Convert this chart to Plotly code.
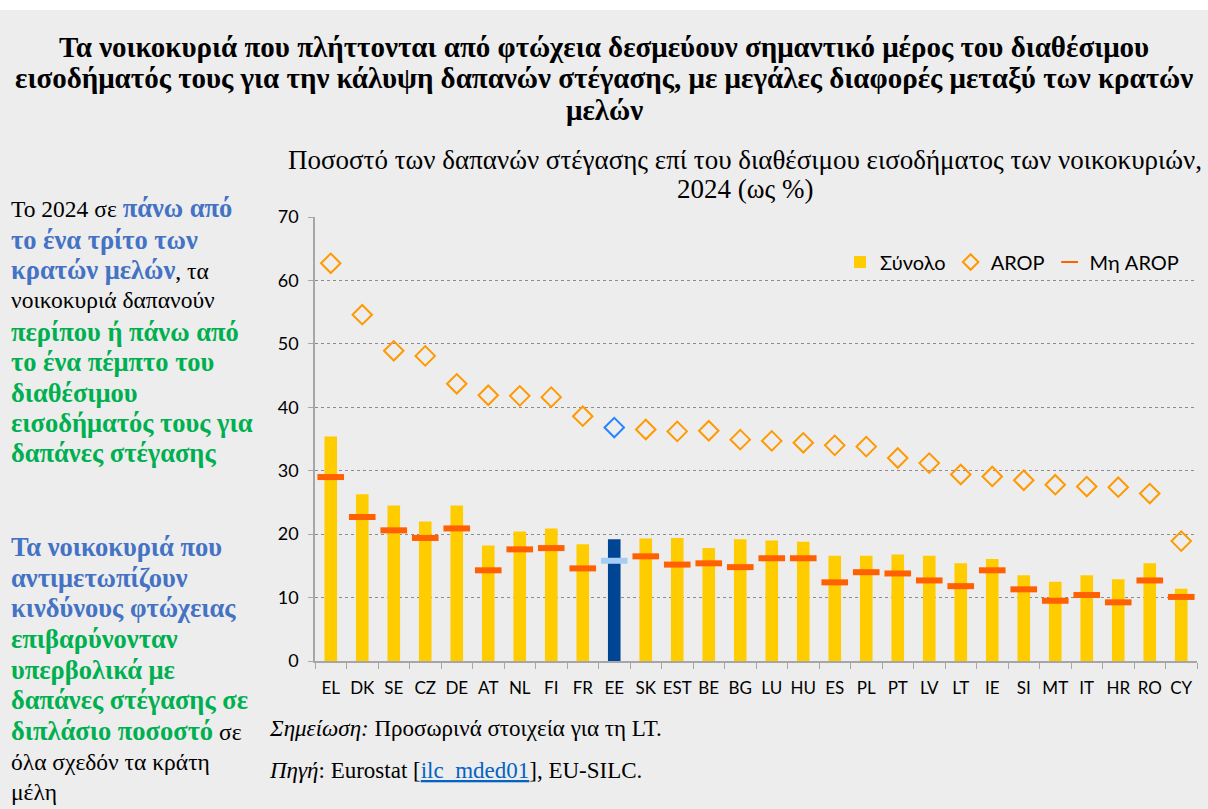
import plotly.graph_objects as go

countries = ["EL", "DK", "SE", "CZ", "DE", "AT", "NL", "FI", "FR", "EE", "SK", "EST", "BE", "BG",
             "LU", "HU", "ES", "PL", "PT", "LV", "LT", "IE", "SI", "MT", "IT", "HR", "RO", "CY"]
total = [35.4, 26.3, 24.5, 22.0, 24.5, 18.2, 20.4, 20.9, 18.4, 19.2, 19.3, 19.4, 17.8, 19.2,
         19.0, 18.8, 16.6, 16.6, 16.8, 16.6, 15.4, 16.1, 13.5, 12.5, 13.5, 12.9, 15.4, 11.4]
arop = [62.7, 54.6, 48.9, 48.1, 43.7, 41.9, 41.8, 41.6, 38.6, 36.8, 36.5, 36.2, 36.3, 34.9,
        34.7, 34.4, 34.0, 33.8, 32.0, 31.2, 29.4, 29.1, 28.5, 27.8, 27.5, 27.4, 26.4, 18.9]
non_arop = [29.0, 22.7, 20.6, 19.4, 20.9, 14.3, 17.6, 17.8, 14.6, 15.8, 16.5, 15.2, 15.4, 14.8,
            16.2, 16.2, 12.4, 14.0, 13.8, 12.7, 11.8, 14.3, 11.3, 9.5, 10.4, 9.25, 12.7, 10.1]
highlight = "EE"

W, H = 1208, 809
L, R, T, B = 315, 11, 217, 148
PW, PH = W - L - R, H - T - B


def px(x):
    return (x - L) / PW


def py(y):
    return (H - B - y) / PH


bar_colors = ["#004494" if c == highlight else "#FFCC00" for c in countries]
dia_colors = ["#2684FF" if c == highlight else "#FF9900" for c in countries]
dash_colors = ["#A6CDF5" if c == highlight else "#FF6000" for c in countries]

fig = go.Figure()
fig.add_trace(go.Bar(x=countries, y=total, name="Σύνολο", width=0.4,
                     marker=dict(color=bar_colors, line=dict(width=0))))
fig.add_trace(go.Scatter(x=countries, y=arop, name="AROP", mode="markers",
                         marker=dict(symbol="diamond-open", size=15, color=dia_colors,
                                     line=dict(width=2, color=dia_colors))))
fig.add_trace(go.Scatter(x=countries, y=non_arop, name="Μη AROP", mode="markers",
                         marker=dict(symbol="line-ew", size=19, color=dash_colors,
                                     line=dict(width=6, color=dash_colors))))

serif = "Liberation Serif, Times New Roman, serif"
sans = "Lato, Open Sans, sans-serif"

ann = []
title_lines = [
    ("Τα νοικοκυριά που πλήττονται από φτώχεια δεσμεύουν σημαντικό μέρος του διαθέσιμου", 47),
    ("εισοδήματός τους για την κάλυψη δαπανών στέγασης, με μεγάλες διαφορές μεταξύ των κρατών", 78),
    ("μελών", 110),
]
for t, y in title_lines:
    ann.append(dict(text="<b>" + t + "</b>", x=px(604), y=py(y), xanchor="center", yanchor="middle",
                    font=dict(family=serif, size=29, color="#000000")))

sub_lines = [
    ("Ποσοστό των δαπανών στέγασης επί του διαθέσιμου εισοδήματος των νοικοκυριών,", 160),
    ("2024 (ως %)", 189),
]
for t, y in sub_lines:
    ann.append(dict(text=t, x=px(745), y=py(y), xanchor="center", yanchor="middle",
                    font=dict(family=serif, size=27, color="#000000")))

BL = "#4472C4"
GR = "#00B050"


def c(t, col):
    return f"<span style='color:{col};font-size:26.5px'><b>{t}</b></span>"


left_lines = [
    ("Το 2024 σε " + c("πάνω από", BL), 208),
    (c("το ένα τρίτο των", BL), 240),
    (c("κρατών μελών", BL) + ", τα", 270),
    ("νοικοκυριά δαπανούν", 300),
    (c("περίπου ή πάνω από", GR), 332),
    (c("το ένα πέμπτο του", GR), 362),
    (c("διαθέσιμου", GR), 393),
    (c("εισοδήματός τους για", GR), 423),
    (c("δαπάνες στέγασης", GR), 453),
    (c("Τα νοικοκυριά που", BL), 547),
    (c("αντιμετωπίζουν", BL), 578),
    (c("κινδύνους φτώχειας", BL), 608),
    (c("επιβαρύνονταν", GR), 639),
    (c("υπερβολικά με", GR), 670),
    (c("δαπάνες στέγασης σε", GR), 700),
    (c("διπλάσιο ποσοστό", GR) + " σε", 731),
    ("όλα σχεδόν τα κράτη", 762),
    ("μέλη", 792),
]
for t, y in left_lines:
    ann.append(dict(text=t, x=px(9), y=py(y), xanchor="left", yanchor="middle",
                    font=dict(family=serif, size=23.5, color="#000000")))

ann.append(dict(text="<i>Σημείωση:</i> Προσωρινά στοιχεία για τη LT.", x=px(267), y=py(728),
                xanchor="left", yanchor="middle", font=dict(family=serif, size=23, color="#000000")))
ann.append(dict(text="<i>Πηγή</i>: Eurostat [<a href='https://ec.europa.eu/eurostat/databrowser/view/ilc_mded01/default/table' "
                     "style='color:#0563C1;text-decoration:underline'>ilc_mded01</a>], EU-SILC.",
                x=px(267), y=py(770),
                xanchor="left", yanchor="middle", font=dict(family=serif, size=23, color="#000000")))

for a in ann:
    a.update(xref="paper", yref="paper", showarrow=False)

fig.update_layout(
    width=W, height=H,
    margin=dict(l=L, r=R, t=T, b=B, autoexpand=False),
    paper_bgcolor="#EDEDED", plot_bgcolor="#EDEDED",
    showlegend=True,
    legend=dict(orientation="h", x=px(840), y=py(262), xanchor="left", yanchor="middle",
                bgcolor="rgba(0,0,0,0)", font=dict(family=sans, size=20, color="#000000"),
                itemsizing="constant", traceorder="normal"),
    annotations=ann,
    shapes=[dict(type="rect", xref="paper", yref="paper", x0=px(-5), x1=px(W + 5),
                 y0=py(10), y1=py(-5), fillcolor="#FFFFFF", line=dict(width=0), layer="below")],
    xaxis=dict(type="category", tickson="boundaries", ticks="outside", ticklen=6, tickcolor="#A6A6A6",
               showline=True, linecolor="#A6A6A6", linewidth=2, showgrid=False, tickangle=0,
               tickfont=dict(family=sans, size=17, color="#000000"), ticklabelstandoff=11,
               range=[-0.5, len(countries) - 0.5], fixedrange=True),
    yaxis=dict(range=[0, 70], dtick=10, ticks="outside", ticklen=5, tickcolor="#A6A6A6",
               showline=True, linecolor="#A6A6A6", linewidth=1.5,
               showgrid=True, gridcolor="#8C8C8C", griddash="dot", gridwidth=1,
               zeroline=False, tickfont=dict(family=sans, size=18, color="#000000"),
               ticklabelstandoff=6, fixedrange=True),
    bargap=0.6,
)

fig.write_html("out.html", config={"displayModeBar": False},
               post_script="document.body.style.margin='0';document.body.style.padding='0';")
